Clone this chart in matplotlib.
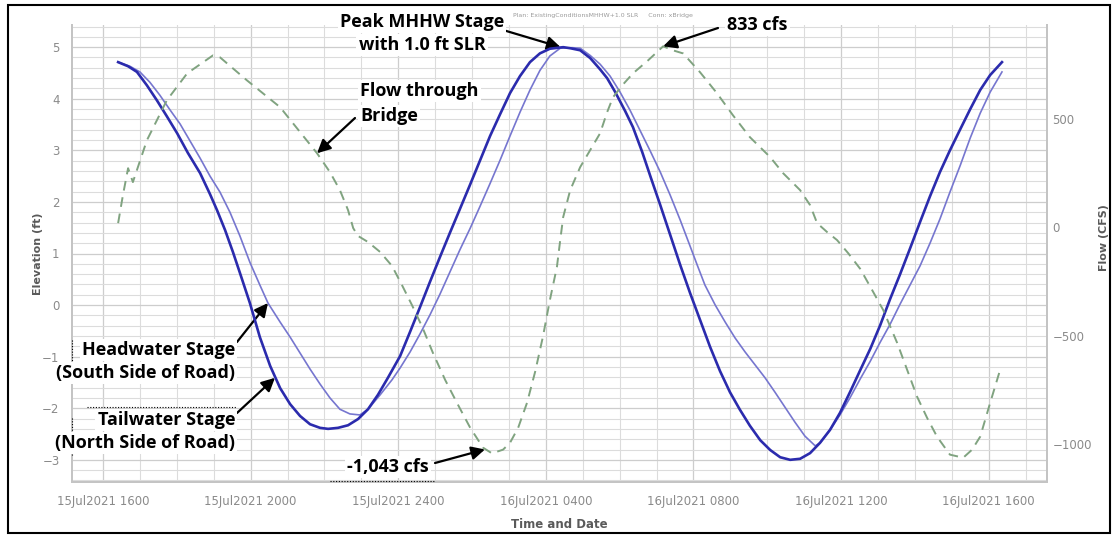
import matplotlib
matplotlib.use("Agg")
import matplotlib.pyplot as plt
from matplotlib.ticker import MultipleLocator, FixedLocator
from matplotlib.patches import Rectangle
from matplotlib.lines import Line2D

# ---------------- data (hours since 15Jul2021 00:00) ----------------
# Tailwater stage (North side of road), elevation ft
tailwater = [
    (16.41, 4.71), (16.68, 4.63), (16.92, 4.52), (17.19, 4.26), (17.46, 3.97),
    (17.73, 3.66), (18.01, 3.33), (18.30, 2.95), (18.63, 2.56), (18.90, 2.15),
    (19.09, 1.84), (19.31, 1.45), (19.52, 1.03), (19.74, 0.56), (19.98, 0.04),
    (20.25, -0.62), (20.53, -1.18), (20.80, -1.61), (21.07, -1.92), (21.34, -2.15),
    (21.61, -2.31), (21.88, -2.38), (22.10, -2.40), (22.37, -2.38), (22.64, -2.33),
    (22.91, -2.21), (23.18, -2.02), (23.45, -1.74), (23.72, -1.41), (24.05, -0.99),
    (24.32, -0.52), (24.59, -0.04), (24.86, 0.45), (25.13, 0.93), (25.40, 1.40),
    (25.67, 1.86), (25.95, 2.34), (26.22, 2.81), (26.49, 3.28), (26.76, 3.70),
    (27.03, 4.11), (27.30, 4.44), (27.57, 4.71), (27.84, 4.88), (28.11, 4.97),
    (28.47, 5.00), (28.66, 4.98), (28.93, 4.94), (29.20, 4.79), (29.47, 4.57),
    (29.66, 4.40), (29.88, 4.13), (30.15, 3.76), (30.36, 3.45), (30.61, 2.97),
    (30.85, 2.46), (31.10, 1.94), (31.37, 1.36), (31.64, 0.78), (31.91, 0.23),
    (32.18, -0.29), (32.45, -0.81), (32.72, -1.28), (32.99, -1.69), (33.26, -2.03),
    (33.53, -2.34), (33.81, -2.62), (34.08, -2.81), (34.35, -2.95), (34.62, -3.00),
    (34.89, -2.98), (35.16, -2.87), (35.43, -2.67), (35.70, -2.42), (35.97, -2.09),
    (36.24, -1.69), (36.52, -1.26), (36.79, -0.85), (37.06, -0.39), (37.33, 0.12),
    (37.60, 0.60), (37.87, 1.10), (38.14, 1.61), (38.41, 2.11), (38.68, 2.58),
    (38.95, 3.00), (39.23, 3.41), (39.50, 3.80), (39.77, 4.17), (40.04, 4.46),
    (40.36, 4.71),
]

# Headwater stage (South side of road), elevation ft
headwater = [
    (16.41, 4.71), (16.73, 4.63), (17.00, 4.52), (17.27, 4.32), (17.54, 4.07),
    (17.82, 3.78), (18.09, 3.51), (18.36, 3.18), (18.63, 2.85), (18.90, 2.50),
    (19.17, 2.19), (19.44, 1.80), (19.71, 1.34), (19.98, 0.83), (20.25, 0.39),
    (20.47, 0.04), (20.80, -0.33), (21.07, -0.62), (21.34, -0.93), (21.61, -1.24),
    (21.88, -1.53), (22.15, -1.80), (22.42, -2.02), (22.69, -2.11), (22.96, -2.13),
    (23.18, -2.02), (23.51, -1.74), (23.83, -1.45), (24.05, -1.22), (24.32, -0.91),
    (24.59, -0.56), (24.86, -0.19), (25.13, 0.21), (25.40, 0.64), (25.67, 1.07),
    (25.95, 1.49), (26.22, 1.92), (26.49, 2.36), (26.76, 2.81), (27.03, 3.28),
    (27.30, 3.74), (27.57, 4.17), (27.84, 4.55), (28.11, 4.83), (28.39, 4.98),
    (28.71, 4.99), (28.93, 4.98), (29.20, 4.84), (29.47, 4.67), (29.74, 4.44),
    (30.01, 4.13), (30.28, 3.78), (30.55, 3.39), (30.82, 3.00), (31.10, 2.58),
    (31.37, 2.13), (31.64, 1.65), (31.91, 1.14), (32.10, 0.78), (32.31, 0.39),
    (32.59, 0.00), (32.86, -0.33), (33.13, -0.64), (33.40, -0.91), (33.67, -1.16),
    (33.94, -1.41), (34.21, -1.69), (34.48, -1.98), (34.75, -2.27), (35.02, -2.54),
    (35.30, -2.73), (35.43, -2.67), (35.70, -2.42), (35.97, -2.13), (36.24, -1.80),
    (36.52, -1.43), (36.79, -1.09), (37.06, -0.72), (37.33, -0.37), (37.60, 0.02),
    (37.87, 0.39), (38.14, 0.76), (38.41, 1.20), (38.68, 1.67), (38.95, 2.19),
    (39.23, 2.71), (39.50, 3.24), (39.77, 3.72), (40.04, 4.13), (40.36, 4.52),
]

# Flow through bridge, cfs
flow = [
    (16.41, 18), (16.54, 147), (16.68, 271), (16.81, 207), (17.19, 400),
    (17.73, 584), (18.28, 708), (18.98, 791), (19.17, 782), (19.90, 676),
    (20.80, 552), (21.80, 340), (22.15, 253), (22.42, 170), (22.64, 78),
    (22.78, -5), (22.91, -41), (23.18, -69), (23.51, -115), (23.83, -179),
    (24.10, -267), (24.37, -359), (24.65, -460), (24.94, -580), (25.27, -704),
    (25.59, -810), (25.95, -925), (26.30, -1017), (26.54, -1043), (26.84, -1026),
    (27.03, -994), (27.25, -925), (27.49, -810), (27.71, -667), (27.92, -506),
    (28.11, -336), (28.30, -184), (28.39, -60), (28.47, 46), (28.66, 170),
    (28.93, 276), (29.20, 354), (29.47, 432), (29.66, 529), (29.82, 598),
    (30.07, 653), (30.36, 708), (30.77, 768), (31.18, 833), (31.45, 814),
    (31.72, 800), (32.18, 713), (32.64, 616), (33.07, 515), (33.53, 414),
    (34.08, 322), (34.43, 248), (34.89, 170), (35.16, 101), (35.35, 18),
    (35.62, -23), (35.89, -60), (36.19, -120), (36.52, -193), (36.84, -290),
    (37.14, -382), (37.52, -534), (37.79, -658), (38.06, -782), (38.33, -879),
    (38.60, -966), (38.95, -1049), (39.31, -1063), (39.55, -1026), (39.77, -966),
    (40.04, -810), (40.31, -658),
]

tick_hours = [16, 20, 24, 28, 32, 36, 40]
tick_labels = ["15Jul2021 1600", "15Jul2021 2000", "15Jul2021 2400",
               "16Jul2021 0400", "16Jul2021 0800", "16Jul2021 1200",
               "16Jul2021 1600"]
elev_ticks = [-3, -2, -1, 0, 1, 2, 3, 4, 5]
flow_ticks = [-1000, -500, 0, 500]

tw_h, tw_e = zip(*tailwater)
hw_h, hw_e = zip(*headwater)
fl_h, fl_q = zip(*flow)

# ---------------- figure ----------------
W, H = 1113, 535
fig = plt.figure(figsize=(W / 100, H / 100), dpi=100)
ax = fig.add_axes([72 / W, 1 - 482 / H, (1047 - 72) / W, (482 - 25) / H])
ax2 = ax.twinx()

tick_col = "#8a8a8a"
lab_col = "#5a5a5a"

ax.set_xlim(15.16, 41.58)
ax.set_ylim(-3.43, 5.43)
ax2.set_ylim(-1175, 931)

ax.xaxis.set_major_locator(FixedLocator(tick_hours))
ax.set_xticklabels(tick_labels)
ax.xaxis.set_minor_locator(MultipleLocator(1))
ax.yaxis.set_major_locator(FixedLocator(elev_ticks))
ax.yaxis.set_minor_locator(MultipleLocator(0.2))
ax2.yaxis.set_major_locator(FixedLocator(flow_ticks))

ax.grid(which="major", axis="both", color="#cdcdcd", lw=0.9)
ax.grid(which="minor", axis="both", color="#dcdcdc", lw=0.8)
ax.set_axisbelow(True)

for a in (ax, ax2):
    for s in a.spines.values():
        s.set_color("#c4c4c4")
        s.set_linewidth(1.4)
    a.spines["top"].set_visible(False)

ax.tick_params(which="both", length=0)
ax.tick_params(axis="y", pad=9, labelsize=8.5, labelcolor=tick_col)
ax.tick_params(axis="x", pad=9, labelsize=8.5, labelcolor=tick_col)
ax2.tick_params(which="both", length=0, pad=4, labelsize=8.5, labelcolor=tick_col)

ax.set_ylabel("Elevation (ft)", fontsize=8, fontweight="bold", color=lab_col)
ax.yaxis.set_label_coords(-0.030, 0.5)
ax2.set_ylabel("Flow (CFS)", fontsize=8, fontweight="bold", color=lab_col)
ax2.yaxis.set_label_coords(1.053, 0.534)
ax.set_xlabel("Time and Date", fontsize=8.5, fontweight="bold", color=lab_col)
ax.xaxis.set_label_coords(0.5, -0.078)

# ---------------- series ----------------
ax.plot(hw_h, hw_e, color="#7676cf", lw=1.2, zorder=3)
ax.plot(tw_h, tw_e, color="#2b2bad", lw=1.9, zorder=4)
ax2.plot(fl_h, fl_q, color="#80a380", lw=1.4, dashes=(5, 3.5), zorder=3)

# ---------------- texts / annotations ----------------
fig.text(603 / W, 1 - 16 / H, "Plan: ExistingConditionsMHHW+1.0 SLR     Conn: xBridge",
         fontsize=4.5, color="#9a9a9a", ha="center", va="center")

afont = dict(family="Open Sans", fontsize=13, fontweight="bold", color="black")
box = dict(facecolor="white", edgecolor="none", pad=1.5)


def label(x, y, s, ha):
    fig.text(x / W, 1 - y / H, s, ha=ha, va="center", bbox=box, zorder=5, **afont)


label(422, 22, "Peak MHHW Stage", "center")
label(422, 45, "with 1.0 ft SLR", "center")
label(727, 25, "833 cfs", "left")
label(360, 91, "Flow through", "left")
label(360, 116, "Bridge", "left")
label(235, 350, "Headwater Stage", "right")
label(235, 373, "(South Side of Road)", "right")
label(235, 420, "Tailwater Stage", "right")
label(235, 443, "(North Side of Road)", "right")
label(347, 467, "-1,043 cfs", "left")

arrow = dict(arrowstyle="-|>", mutation_scale=20, lw=1.6, color="black",
             shrinkA=0, shrinkB=0)
ax.annotate("", xy=(28.40, 5.0), xycoords="data", xytext=(503, H - 30),
            textcoords="figure pixels", arrowprops=arrow)
ax2.annotate("", xy=(31.18, 833), xycoords="data", xytext=(718, H - 28),
             textcoords="figure pixels", arrowprops=arrow)
ax2.annotate("", xy=(21.80, 340), xycoords="data", xytext=(355, H - 118),
             textcoords="figure pixels", arrowprops=arrow)
ax.annotate("", xy=(20.47, 0.04), xycoords="data", xytext=(237, H - 342),
            textcoords="figure pixels", arrowprops=arrow)
ax.annotate("", xy=(20.66, -1.41), xycoords="data", xytext=(237, H - 413),
            textcoords="figure pixels", arrowprops=arrow)
ax2.annotate("", xy=(26.35, -1025), xycoords="data", xytext=(435, H - 463),
             textcoords="figure pixels", arrowprops=arrow)

# dotted box edges left over around the call-outs
dotted = [((72, 72), (340, 380)), ((72, 72), (418, 455)), ((87, 237), (407, 407)),
          ((330, 435), (481, 481))]
for xs, ys in dotted:
    fig.lines.append(Line2D([x / W for x in xs], [1 - y / H for y in ys],
                            transform=fig.transFigure, color="black", lw=0.8,
                            linestyle=(0, (1, 1.5))))

# figure frame
fig.patches.append(Rectangle((8 / W, 2 / H), 1102 / W, 528 / H, transform=fig.transFigure,
                             fill=False, edgecolor="black", lw=1.5))

fig.savefig("out.png", dpi=100)
